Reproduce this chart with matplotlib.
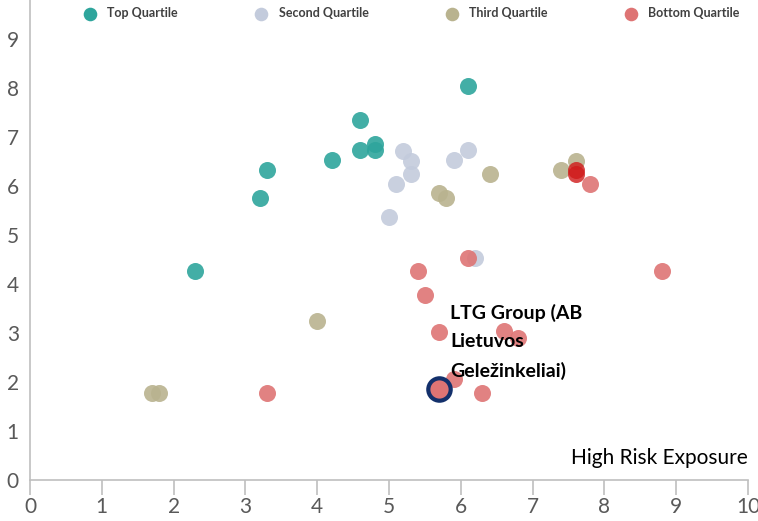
import matplotlib.pyplot as plt

plt.rcParams['font.family'] = ['Lato', 'DejaVu Sans']

# quartile groups: x = high risk exposure, y = score
top_x = [6.1, 4.6, 4.8, 4.8, 4.6, 4.2, 3.3, 3.2, 2.3]
top_y = [8.05, 7.35, 6.86, 6.74, 6.74, 6.54, 6.33, 5.76, 4.26]

second_x = [5.2, 5.3, 5.3, 5.1, 5.0, 5.9, 6.1, 6.2]
second_y = [6.72, 6.52, 6.25, 6.05, 5.36, 6.54, 6.74, 4.54]

third_x = [5.7, 5.8, 6.4, 7.4, 7.6, 4.0, 1.7, 1.8]
third_y = [5.85, 5.76, 6.25, 6.33, 6.52, 3.24, 1.77, 1.77]

bottom_x = [5.4, 5.5, 6.1, 5.7, 6.6, 6.8, 5.9, 6.3, 3.3, 8.8, 7.8]
bottom_y = [4.26, 3.77, 4.54, 3.03, 3.05, 2.9, 2.06, 1.77, 1.77, 4.26, 6.05]

# darker overlapping red points
dark_x = [7.6, 7.6]
dark_y = [6.33, 6.25]

ltg_x, ltg_y = 5.7, 1.85
ltg_label = "LTG Group (AB\nLietuvos\nGeležinkeliai)"

c_top = '#2ea59c'
c_second = '#c3cbdc'
c_third = '#b9b38f'
c_bottom = '#de7474'

fig = plt.figure(figsize=(7.58, 5.21), dpi=100)
ax = fig.add_axes([30/758, 41/521, 718/758, 480/521])

s = 150
ax.scatter(top_x, top_y, s=s, color=c_top, alpha=0.9, lw=0, label='Top Quartile', zorder=3)
ax.scatter(second_x, second_y, s=s, color=c_second, alpha=0.9, lw=0, label='Second Quartile', zorder=3)
ax.scatter(third_x, third_y, s=s, color=c_third, alpha=0.9, lw=0, label='Third Quartile', zorder=3)
ax.scatter(bottom_x, bottom_y, s=s, color=c_bottom, alpha=0.9, lw=0, label='Bottom Quartile', zorder=3)
ax.scatter(dark_x, dark_y, s=s, color='#d01a1a', alpha=0.8, lw=0, zorder=3)
ax.scatter([ltg_x], [ltg_y], s=260, color=c_bottom, edgecolor='#13306b', lw=3, zorder=4)

ax.text(ltg_x + 0.15, 3.6, ltg_label, fontsize=14, fontweight='bold', color='black',
        va='top', ha='left', linespacing=1.8, zorder=5)

ax.set_xlim(0, 10)
ax.set_ylim(0, 9.8)
ax.set_xticks(range(11))
ax.set_yticks(range(10))
for sp in ['top', 'right']:
    ax.spines[sp].set_visible(False)
for sp in ['left', 'bottom']:
    ax.spines[sp].set_color('#bfbfbf')
    ax.spines[sp].set_linewidth(1.2)
ax.tick_params(axis='x', direction='out', length=11, width=1.2, color='#bfbfbf',
               labelsize=15, labelcolor='#595959', pad=1)
ax.tick_params(axis='y', length=0, labelsize=15, labelcolor='#595959', pad=8)

ax.text(1.0, 0.025, 'High Risk Exposure', transform=ax.transAxes, ha='right', va='bottom',
        fontsize=15, color='black')

leg = ax.legend(loc='upper center', bbox_to_anchor=(0.527, 1.008), ncol=4, frameon=False,
                handletextpad=0.4, columnspacing=5.65, markerscale=0.8,
                prop={'weight': 'bold', 'size': 9})
for t in leg.get_texts():
    t.set_color('#404040')
for h in leg.legend_handles:
    h.set_alpha(1)

fig.savefig('out.png', dpi=100)
